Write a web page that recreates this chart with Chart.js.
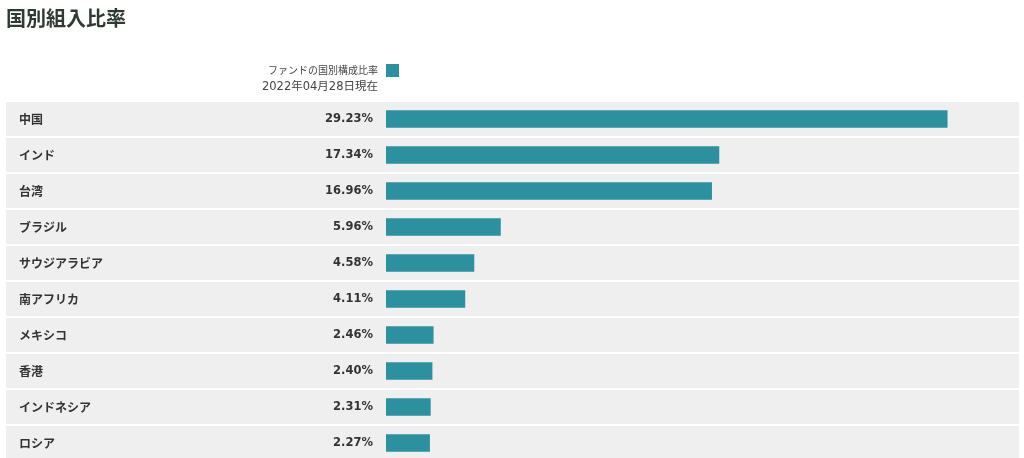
<!DOCTYPE html>
<html lang="ja">
<head>
<meta charset="utf-8">
<script src="https://cdn.jsdelivr.net/npm/chart.js@4"></script>
<style>
    html, body { margin: 0; padding: 0; background: #fff; overflow: hidden; }
    .wrap { position: relative; width: 1024px; height: 461px; }
</style>
</head>
<body>
<div class="wrap"><canvas id="barChart"></canvas></div>
<script>
const chartTitle = '国別組入比率';
const legendLabel = 'ファンドの国別構成比率';
const asOfDate = '2022年04月28日現在';
const categories = ['中国', 'インド', '台湾', 'ブラジル', 'サウジアラビア', '南アフリカ', 'メキシコ', '香港', 'インドネシア', 'ロシア'];
const values = [29.23, 17.34, 16.96, 5.96, 4.58, 4.11, 2.46, 2.40, 2.31, 2.27];

const barColor = '#2c909e';
const latinJp = '"DejaVu Sans", "Noto Sans CJK JP", sans-serif';

// row backgrounds, country names, values, title and legend
const tablePlugin = {
    id: 'tablePlugin',
    beforeDatasetsDraw(chart) {
        const ctx = chart.ctx;
        const yScale = chart.scales.y;
        ctx.save();
        ctx.fillStyle = '#efefef';
        categories.forEach((c, i) => {
            const y = yScale.getPixelForValue(i);
            ctx.fillRect(6, y - 17, 1013, 34);
        });
        ctx.restore();
    },
    afterDraw(chart) {
        const ctx = chart.ctx;
        const yScale = chart.scales.y;
        ctx.save();
        ctx.textBaseline = 'middle';
        categories.forEach((c, i) => {
            const y = yScale.getPixelForValue(i);
            ctx.fillStyle = '#333';
            ctx.textAlign = 'left';
            ctx.font = 'bold 12px "Noto Sans CJK JP", sans-serif';
            ctx.fillText(c, 19, y);
            ctx.textAlign = 'right';
            ctx.font = 'bold 11.5px ' + latinJp;
            ctx.fillText(values[i].toFixed(2) + '%', 373, y);
        });

        ctx.textAlign = 'left';
        ctx.fillStyle = '#2f3a33';
        ctx.font = 'bold 20px "Noto Sans CJK JP", sans-serif';
        ctx.fillText(chartTitle, 6, 18);

        ctx.textAlign = 'right';
        ctx.fillStyle = '#444';
        ctx.font = '10px "Noto Sans CJK JP", sans-serif';
        ctx.fillText(legendLabel, 378, 70);
        ctx.font = '11.5px ' + latinJp;
        ctx.fillText(asOfDate, 378, 87);
        ctx.fillStyle = barColor;
        ctx.fillRect(386, 64, 13, 13);
        ctx.restore();
    }
};

const barCtx = document.getElementById('barChart').getContext('2d');
const barChart = new Chart(barCtx, {
    type: 'bar',
    data: {
        labels: categories,
        datasets: [
            {
                label: legendLabel,
                data: values,
                backgroundColor: barColor,
                borderWidth: 0,
                barThickness: 17,
            }
        ]
    },
    options: {
        indexAxis: 'y',
        responsive: true,
        maintainAspectRatio: false,
        animation: false,
        scales: {
            x: {
                display: false,
                min: 0,
                max: 30,
            },
            y: {
                display: false,
            }
        },
        plugins: {
            legend: { display: false },
            tooltip: { enabled: false },
        },
        layout: {
            padding: {
                left: 386,
                right: 62,
                top: 101,
                bottom: 0
            }
        }
    },
    plugins: [tablePlugin]
});
</script>
</body>
</html>
